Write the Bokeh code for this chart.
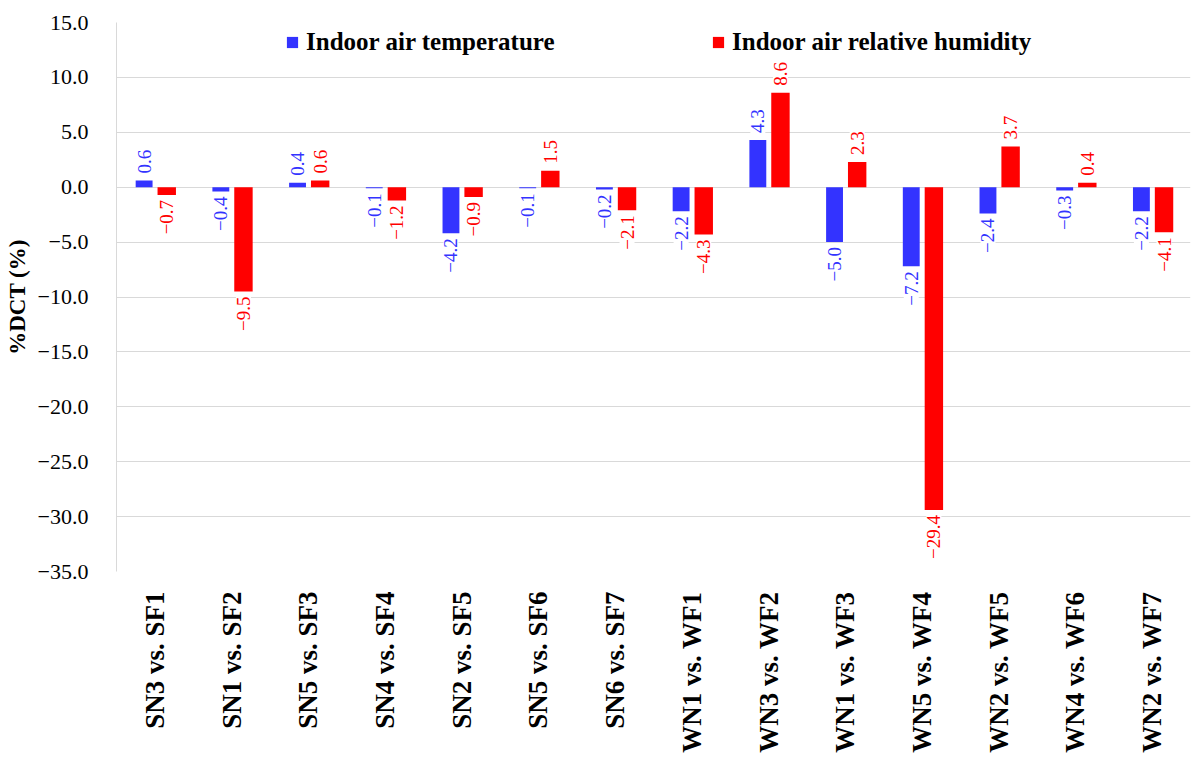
import math
from bokeh.plotting import figure
from bokeh.models import (ColumnDataSource, FactorRange, FixedTicker, CustomJSTickFormatter,
                          Legend, LegendItem)
from bokeh.transform import dodge
from bokeh.embed import file_html
from bokeh.resources import INLINE

categories = ["SN3 vs. SF1", "SN1 vs. SF2", "SN5 vs. SF3", "SN4 vs. SF4", "SN2 vs. SF5",
              "SN5 vs. SF6", "SN6 vs. SF7", "WN1 vs. WF1", "WN3 vs. WF2", "WN1 vs. WF3",
              "WN5 vs. WF4", "WN2 vs. WF5", "WN4 vs. WF6", "WN2 vs. WF7"]
temperature = [0.6, -0.4, 0.4, -0.1, -4.2, -0.1, -0.2, -2.2, 4.3, -5.0, -7.2, -2.4, -0.3, -2.2]
humidity = [-0.7, -9.5, 0.6, -1.2, -0.9, 1.5, -2.1, -4.3, 8.6, 2.3, -29.4, 3.7, 0.4, -4.1]
series_names = ["Indoor air temperature", "Indoor air relative humidity"]
y_ticks = [-35, -30, -25, -20, -15, -10, -5, 0, 5, 10, 15]

BLUE = "#3333FF"
RED = "#FF0000"
FONT = "Liberation Serif"


def fmt(v):
    s = f"{abs(v):.1f}"
    return ("\u2212" + s) if v < 0 else s


src = ColumnDataSource(dict(
    cat=categories,
    t=temperature,
    h=humidity,
    t_txt=[fmt(v) for v in temperature],
    h_txt=[fmt(v) for v in humidity],
    t_align=["left" if v >= 0 else "right" for v in temperature],
    h_align=["left" if v >= 0 else "right" for v in humidity],
    t_off=[-6 if v >= 0 else 4 for v in temperature],
    h_off=[-6 if v >= 0 else 4 for v in humidity],
))

p = figure(width=1192, height=758, x_range=FactorRange(*categories), y_range=(-35, 15),
           output_backend="svg", toolbar_location=None,
           min_border_left=116, min_border_right=2, min_border_top=22, min_border_bottom=187)
p.outline_line_color = None

rb = p.vbar(x=dodge("cat", -0.14, range=p.x_range), top="t", bottom=0, width=0.22, source=src,
            fill_color=BLUE, line_color=None)
rr = p.vbar(x=dodge("cat", 0.155, range=p.x_range), top="h", bottom=0, width=0.24, source=src,
            fill_color=RED, line_color=None)

p.text(x=dodge("cat", -0.14, range=p.x_range), y="t", text="t_txt", source=src,
       angle=math.pi / 2, text_align="t_align", text_baseline="middle", y_offset="t_off",
       text_color=BLUE, text_font={"value": FONT}, text_font_size="19px",
       background_fill_color="white", padding=1)
p.text(x=dodge("cat", 0.155, range=p.x_range), y="h", text="h_txt", source=src,
       angle=math.pi / 2, text_align="h_align", text_baseline="middle", y_offset="h_off",
       text_color=RED, text_font={"value": FONT}, text_font_size="19px",
       background_fill_color="white", padding=1)

# axes
p.yaxis.ticker = FixedTicker(ticks=y_ticks)
p.yaxis.formatter = CustomJSTickFormatter(
    code="return (tick < 0 ? '\\u2212' : '') + Math.abs(tick).toFixed(1);")
p.yaxis.major_tick_line_color = None
p.yaxis.minor_tick_line_color = None
p.yaxis.axis_line_color = "#d9d9d9"
p.yaxis.major_label_text_font = FONT
p.yaxis.major_label_text_font_size = "22px"
p.yaxis.major_label_text_color = "#000000"
p.yaxis.major_label_standoff = 22
p.yaxis.axis_label = "%DCT (%)"
p.yaxis.axis_label_text_font = FONT
p.yaxis.axis_label_text_font_size = "23px"
p.yaxis.axis_label_text_font_style = "bold"
p.yaxis.axis_label_text_color = "#000000"
p.yaxis.axis_label_standoff = 5

p.xaxis.major_label_orientation = math.pi / 2
p.xaxis.major_tick_line_color = None
p.xaxis.axis_line_color = None
p.xaxis.major_label_text_font = FONT
p.xaxis.major_label_text_font_size = "27px"
p.xaxis.major_label_text_font_style = "bold"
p.xaxis.major_label_text_color = "#000000"
p.xaxis.major_label_standoff = 14

p.xgrid.grid_line_color = None
p.ygrid.grid_line_color = "#d9d9d9"
p.ygrid.grid_line_width = 1

# legends
for r, name, x in [(rb, series_names[0], 169), (rr, series_names[1], 595)]:
    lg = Legend(items=[LegendItem(label=name, renderers=[r])], location=(x, 515),
                orientation="horizontal", padding=0, margin=0, spacing=0,
                glyph_width=14, glyph_height=14, label_height=24, label_standoff=7,
                label_text_font=FONT, label_text_font_size="25px",
                label_text_font_style="bold", label_text_color="#000000",
                background_fill_alpha=0, border_line_color=None)
    p.add_layout(lg)

open("out.html", "w").write(file_html(p, INLINE))
